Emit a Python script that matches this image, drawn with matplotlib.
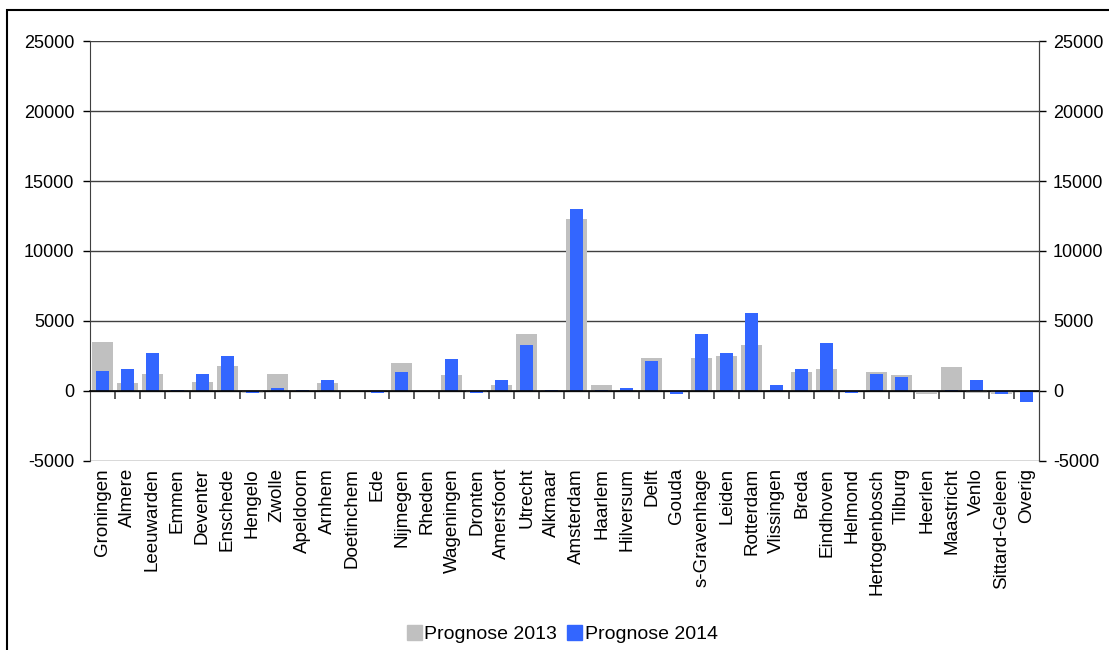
import numpy as np
import matplotlib.pyplot as plt
from matplotlib.patches import Rectangle, Patch

plt.rcParams['font.family'] = ['Liberation Sans', 'DejaVu Sans']
plt.rcParams['axes.unicode_minus'] = False

steden = ['Groningen', 'Almere', 'Leeuwarden', 'Emmen', 'Deventer', 'Enschede',
          'Hengelo', 'Zwolle', 'Apeldoorn', 'Arnhem', 'Doetinchem', 'Ede',
          'Nijmegen', 'Rheden', 'Wageningen', 'Dronten', 'Amersfoort', 'Utrecht',
          'Alkmaar', 'Amsterdam', 'Haarlem', 'Hilversum', 'Delft', 'Gouda',
          's-Gravenhage', 'Leiden', 'Rotterdam', 'Vlissingen', 'Breda',
          'Eindhoven', 'Helmond', 'Hertogenbosch', 'Tilburg', 'Heerlen',
          'Maastricht', 'Venlo', 'Sittard-Geleen', 'Overig']

prognose_2013 = [3520, 600, 1240, 90, 670, 1810,
                 -120, 1240, 0, 600, 0, 60,
                 2020, 0, 1170, -60, 450, 4100,
                 90, 12310, 450, 90, 2380, 0,
                 2380, 2520, 3310, 90, 1380,
                 1600, 0, 1380, 1170, -240,
                 1740, -170, -240, 0]

prognose_2014 = [1450, 1600, 2740, 80, 1240, 2520,
                 -170, 240, 90, 810, 20, -170,
                 1380, 0, 2310, -150, 810, 3310,
                 90, 13020, 70, 240, 2170, -240,
                 4100, 2740, 5600, 450, 1600,
                 3450, -170, 1240, 1020, 0,
                 90, 810, -240, -810]

x = np.arange(len(steden))

fig = plt.figure(figsize=(11.09, 6.5), dpi=100)
ax = fig.add_axes([0.0809, 0.2908, 0.856, 0.6461])

ax.bar(x, prognose_2013, width=0.84, color='#C0C0C0', zorder=2)
ax.bar(x, prognose_2014, width=0.52, color='#3366FF', zorder=3)

ax.set_xlim(-0.5, len(steden) - 0.5)
ax.set_ylim(-5000, 25000)
yt = np.arange(-5000, 25001, 5000)
ax.set_yticks(yt)
ax.tick_params(axis='y', direction='out', length=5, width=1, labelsize=13, pad=6)
for y in yt:
    ax.axhline(y, color='#404040', lw=1, zorder=1)

ax.set_xticks(x, steden, rotation=90, fontsize=13.5)
ax.tick_params(axis='x', length=0, pad=5)

for side in ['top', 'bottom']:
    ax.spines[side].set_visible(False)
for side in ['left', 'right']:
    ax.spines[side].set_color('#404040')

# category axis through zero with tick marks between categories
nul = ax.secondary_xaxis(5000 / 30000)
nul.set_xticks(np.arange(0.5, len(steden) - 1, 1.0), [])
nul.tick_params(direction='out', length=6, width=1.2, color='#404040')
nul.spines['bottom'].set_color('black')
nul.spines['bottom'].set_linewidth(1.2)
nul.set_zorder(4)

ax2 = ax.twinx()
ax2.set_ylim(-5000, 25000)
ax2.set_yticks(yt)
ax2.tick_params(axis='y', direction='out', length=5, width=1, labelsize=13, pad=5)
for side in ['top', 'bottom', 'left']:
    ax2.spines[side].set_visible(False)
ax2.spines['right'].set_color('#404040')

handles = [Patch(color='#C0C0C0', label='Prognose 2013'),
           Patch(color='#3366FF', label='Prognose 2014')]
fig.legend(handles=handles, loc='center', bbox_to_anchor=(0.507, 0.024),
           ncol=2, frameon=False, fontsize=14, handlelength=0.75,
           handleheight=0.75, handletextpad=0.15, columnspacing=0.5)

fig.add_artist(Rectangle((7 / 1109, -0.1), 1.2, 1 - 10 / 650 + 0.1,
                         transform=fig.transFigure, fill=False,
                         edgecolor='black', lw=1.5))

fig.savefig('out.png', dpi=100)
